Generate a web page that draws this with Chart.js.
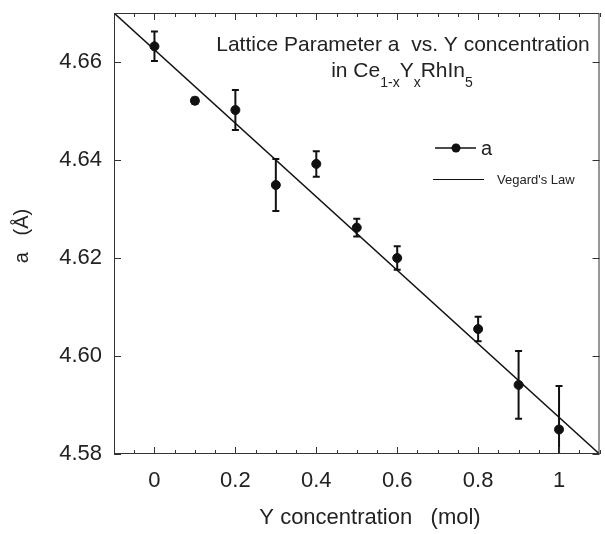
<!DOCTYPE html>
<html>
<head>
<meta charset="utf-8">
<script src="https://cdn.jsdelivr.net/npm/chart.js@4.4.0/dist/chart.umd.min.js"></script>
<style>
  html, body { margin: 0; padding: 0; background: #fff; }
  #wrap { width: 605px; height: 534px; }
</style>
</head>
<body>
<div id="wrap"><canvas id="latticeChart"></canvas></div>
<script>
// Y concentration (mol) and lattice parameter a (Å) with error bars
const concentration = [0, 0.1, 0.2, 0.3, 0.4, 0.5, 0.6, 0.8, 0.9, 1.0];
const latticeA = [4.6632, 4.6521, 4.6502, 4.6349, 4.6392, 4.6262, 4.6200, 4.6055, 4.5941, 4.5850];
const latticeErr = [0.0030, 0.0006, 0.0041, 0.0053, 0.0026, 0.0018, 0.0024, 0.0025, 0.0069, 0.0089];

// Vegard's law line
const vegardX = [-0.1, 1.1];
const vegardA = [4.670, 4.580];

const xTicks = [0, 0.2, 0.4, 0.6, 0.8, 1];
const yTicks = [4.58, 4.60, 4.62, 4.64, 4.66];

const FONT = '"Liberation Sans", Arial, Helvetica, sans-serif';
const INK = "#111";

function drawRich(ctx, parts, cx, baseline) {
  // parts: [text, isSub]
  const widths = parts.map(([t, sub]) => {
    ctx.font = (sub ? "14px " : "21px ") + FONT;
    return ctx.measureText(t).width;
  });
  let x = cx - widths.reduce((s, w) => s + w, 0) / 2;
  parts.forEach(([t, sub], i) => {
    ctx.font = (sub ? "14px " : "21px ") + FONT;
    ctx.fillText(t, x, baseline + (sub ? 10 : 0));
    x += widths[i];
  });
}

const decor = {
  id: "decor",
  afterDatasetsDraw(chart) {
    const { ctx, chartArea: a, scales: { x, y } } = chart;
    ctx.save();
    ctx.beginPath();
    ctx.rect(a.left, a.top, a.right - a.left, a.bottom - a.top);
    ctx.clip();
    ctx.strokeStyle = INK;
    ctx.lineWidth = 2;
    concentration.forEach((c, i) => {
      const px = x.getPixelForValue(c);
      const top = y.getPixelForValue(latticeA[i] + latticeErr[i]);
      const bot = y.getPixelForValue(latticeA[i] - latticeErr[i]);
      ctx.beginPath();
      ctx.moveTo(px, top); ctx.lineTo(px, bot);
      ctx.moveTo(px - 3.5, top); ctx.lineTo(px + 3.5, top);
      ctx.moveTo(px - 3.5, bot); ctx.lineTo(px + 3.5, bot);
      ctx.stroke();
    });
    ctx.restore();
  },
  afterDraw(chart) {
    const { ctx, chartArea: a, scales: { x, y } } = chart;
    ctx.save();

    // frame
    ctx.strokeStyle = "#333";
    ctx.lineWidth = 1;
    ctx.strokeRect(a.left + 0.5, a.top + 0.5, a.right - a.left - 1, a.bottom - a.top - 1);

    // inward ticks
    ctx.beginPath();
    for (let k = -2; k <= 22; k++) {
      const v = k * 0.05;
      const px = Math.round(x.getPixelForValue(v)) + 0.5;
      const len = (k % 4 === 0 && k >= 0 && k <= 20) ? 7 : 4;
      ctx.moveTo(px, a.bottom); ctx.lineTo(px, a.bottom - len);
      ctx.moveTo(px, a.top); ctx.lineTo(px, a.top + len);
    }
    yTicks.forEach(v => {
      const py = Math.round(y.getPixelForValue(v)) + 0.5;
      ctx.moveTo(a.left, py); ctx.lineTo(a.left + 7, py);
      ctx.moveTo(a.right, py); ctx.lineTo(a.right - 7, py);
    });
    ctx.stroke();

    // title
    ctx.fillStyle = "#222";
    ctx.textAlign = "left";
    ctx.textBaseline = "alphabetic";
    drawRich(ctx, [["Lattice Parameter a  vs. Y concentration", false]], 403, 51);
    drawRich(ctx, [["in Ce", false], ["1-x", true], ["Y", false], ["x", true], ["RhIn", false], ["5", true]], 402, 77);

    // legend
    ctx.strokeStyle = INK;
    ctx.lineWidth = 1.5;
    ctx.beginPath(); ctx.moveTo(435, 148); ctx.lineTo(476, 148); ctx.stroke();
    ctx.fillStyle = INK;
    ctx.beginPath(); ctx.arc(456, 148, 4.5, 0, Math.PI * 2); ctx.fill();
    ctx.lineWidth = 1;
    ctx.beginPath(); ctx.moveTo(433, 179.5); ctx.lineTo(484, 179.5); ctx.stroke();
    ctx.fillStyle = "#222";
    ctx.font = "20px " + FONT;
    ctx.fillText("a", 481, 155);
    ctx.font = "13px " + FONT;
    ctx.fillText("Vegard's Law", 497, 184);

    // axis titles
    ctx.font = "22px " + FONT;
    ctx.textAlign = "center";
    ctx.textBaseline = "middle";
    ctx.fillText("Y concentration   (mol)", 370, 518);
    ctx.save();
    ctx.translate(22, 236);
    ctx.rotate(-Math.PI / 2);
    ctx.font = "20px " + FONT;
    ctx.fillText("a   (Å)", 0, 0);
    ctx.restore();

    ctx.restore();
  }
};

new Chart(document.getElementById("latticeChart").getContext("2d"), {
  type: "scatter",
  data: {
    datasets: [
      {
        label: "a",
        data: concentration.map((c, i) => ({ x: c, y: latticeA[i] })),
        backgroundColor: INK,
        borderColor: INK,
        pointRadius: 4.5,
        pointHoverRadius: 4.5,
        showLine: false,
        order: 1
      },
      {
        label: "Vegard's Law",
        type: "line",
        data: vegardX.map((v, i) => ({ x: v, y: vegardA[i] })),
        borderColor: INK,
        borderWidth: 1.5,
        pointRadius: 0,
        fill: false,
        order: 2
      }
    ]
  },
  options: {
    responsive: true,
    maintainAspectRatio: false,
    animation: false,
    events: [],
    layout: { padding: { top: 13, right: 1, left: 0, bottom: 0 } },
    plugins: {
      legend: { display: false },
      tooltip: { enabled: false }
    },
    scales: {
      x: {
        type: "linear",
        min: -0.1,
        max: 1.1,
        afterBuildTicks: s => { s.ticks = xTicks.map(v => ({ value: v })); },
        afterFit: s => { s.height = 80; s.paddingLeft = 0; s.paddingRight = 0; },
        grid: { display: false, drawTicks: false },
        border: { display: false },
        ticks: {
          color: "#222",
          padding: 14,
          maxRotation: 0,
          font: { family: FONT, size: 22 },
          callback: v => String(v)
        }
      },
      y: {
        type: "linear",
        min: 4.58,
        max: 4.67,
        afterBuildTicks: s => { s.ticks = yTicks.map(v => ({ value: v })); },
        afterFit: s => { s.width = 114; s.paddingTop = 0; s.paddingBottom = 0; },
        grid: { display: false, drawTicks: false },
        border: { display: false },
        ticks: {
          color: "#222",
          padding: 12,
          font: { family: FONT, size: 22 },
          callback: v => v.toFixed(2)
        }
      }
    }
  },
  plugins: [decor]
});
</script>
</body>
</html>
